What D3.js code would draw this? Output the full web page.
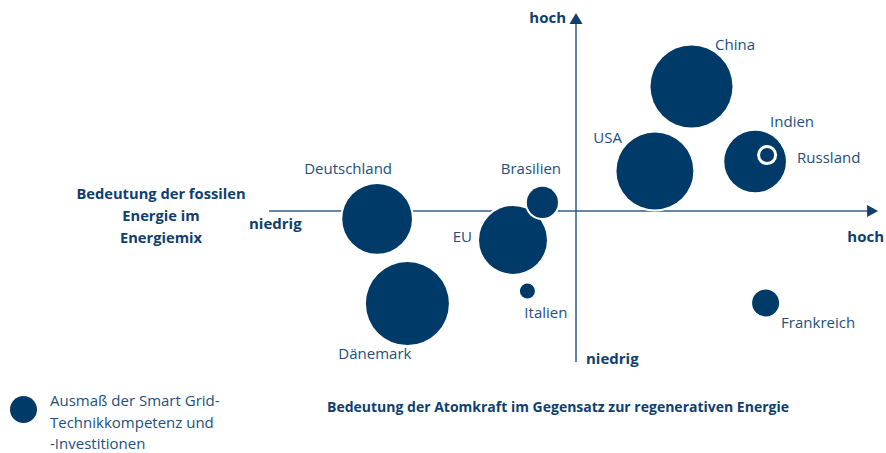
<!DOCTYPE html>
<html lang="de">
<head>
<meta charset="utf-8">
<script src="https://cdn.jsdelivr.net/npm/d3@7"></script>
<style>
  html, body { margin: 0; padding: 0; background: #fff; }
  svg { display: block; font-family: "Open Sans", "DejaVu Sans", sans-serif; }
  .lbl { fill: #21507f; font-size: 15px; font-stretch: 91%; }
  .bold { fill: #0f3f6e; font-size: 15px; font-weight: 700; font-stretch: 92%; }
  .xtitle { font-size: 14px; }
  .ytitle { font-size: 14.7px; }
</style>
</head>
<body>
<svg id="chart" width="886" height="453"></svg>
<script>
// Länder und ihre Lage im Portfolio
const countries  = ["China", "USA", "Indien", "Deutschland", "Dänemark", "EU", "Brasilien", "Italien", "Frankreich"];
// x: Bedeutung der Atomkraft im Gegensatz zur regenerativen Energie (niedrig -10 … hoch +10)
const atomkraft  = [3.85, 2.63, 5.97, -6.63, -5.62, -2.1, -1.12, -1.62, 6.32];
// y: Bedeutung der fossilen Energie im Energiemix (niedrig -10 … hoch +10)
const fossil     = [8.3, 2.67, 3.3, -0.53, -6.17, -1.93, 0.57, -5.33, -6.13];
// Kreisfläche: Ausmaß der Smart Grid-Technikkompetenz und -Investitionen
const smartGrid  = [83, 73, 47, 60, 85, 57, 12, 2.8, 9];

// Russland wird als Ring innerhalb von Indien markiert
const ringName   = ["Russland"];
const ringX      = [6.37];
const ringY      = [3.73];
const ringSize   = [3.6];

const legendSize = [9];
const legendText = ["Ausmaß der Smart Grid-", "Technikkompetenz und", "-Investitionen"];
const xTitle     = ["Bedeutung der Atomkraft im Gegensatz zur regenerativen Energie"];
const yTitle     = ["Bedeutung der fossilen", "Energie im", "Energiemix"];
const lowLabel   = "niedrig";
const highLabel  = "hoch";

// Beschriftungs-Layout (Anker und Versatz zum Kreismittelpunkt)
const labelLayout = {
  "China":       { anchor: "start",  dx: 23.5,  dy: -36.5 },
  "USA":         { anchor: "end",    dx: -33,   dy: -28 },
  "Indien":      { anchor: "start",  dx: 15,    dy: -34.5 },
  "Russland":    { anchor: "start",  dx: 30,    dy: 8 },
  "Brasilien":   { anchor: "middle", dx: -11.5, dy: -28.5 },
  "EU":          { anchor: "end",    dx: -41,   dy: 2 },
  "Deutschland": { anchor: "middle", dx: -29,   dy: -45 },
  "Dänemark":    { anchor: "middle", dx: -32.5, dy: 55.5 },
  "Italien":     { anchor: "middle", dx: 18.5,  dy: 27 },
  "Frankreich":  { anchor: "start",  dx: 15.5,  dy: 25 }
};

const bubbleColor = "#003a69";
const axisColor   = "#2f5d8c";

const svg = d3.select("#chart");

const x = d3.scaleLinear().domain([-10, 10]).range([276, 876]);
const y = d3.scaleLinear().domain([-10, 10]).range([361, 61]);
const r = d3.scaleSqrt().domain([0, 100]).range([0, 45]);

// Achsenkreuz
const xExtent = [-10.23, 10.07];
const yExtent = [-10.07, 13.2];

const axes = svg.append("g");
axes.append("line")
  .attr("x1", x(xExtent[0])).attr("x2", x(xExtent[1]) - 10)
  .attr("y1", y(0)).attr("y2", y(0))
  .attr("stroke", axisColor).attr("stroke-width", 1.5);
axes.append("line")
  .attr("x1", x(0)).attr("x2", x(0))
  .attr("y1", y(yExtent[0])).attr("y2", y(yExtent[1]) + 10)
  .attr("stroke", axisColor).attr("stroke-width", 1.5);

// Pfeilspitzen
const ax = x(xExtent[1]), ay = y(0);
axes.append("path")
  .attr("d", `M${ax},${ay} L${ax - 11},${ay - 6} L${ax - 11},${ay + 6} Z`)
  .attr("fill", "#0f3f6e");
const tx = x(0), ty = y(yExtent[1]);
axes.append("path")
  .attr("d", `M${tx},${ty} L${tx - 6.5},${ty + 11} L${tx + 6.5},${ty + 11} Z`)
  .attr("fill", "#0f3f6e");

// Kreise
const data = countries.map((c, i) => ({ name: c, x: atomkraft[i], y: fossil[i], s: smartGrid[i] }));

svg.append("g").selectAll("circle")
  .data(data)
  .join("circle")
  .attr("cx", d => x(d.x))
  .attr("cy", d => y(d.y))
  .attr("r", d => r(d.s))
  .attr("fill", bubbleColor)
  .attr("stroke", "#fff")
  .attr("stroke-width", 4)
  .style("paint-order", "stroke");

const rings = ringName.map((n, i) => ({ name: n, x: ringX[i], y: ringY[i], s: ringSize[i] }));
svg.append("g").selectAll("circle")
  .data(rings)
  .join("circle")
  .attr("cx", d => x(d.x))
  .attr("cy", d => y(d.y))
  .attr("r", d => r(d.s))
  .attr("fill", bubbleColor)
  .attr("stroke", "#fff")
  .attr("stroke-width", 3);

// Länderbeschriftungen
svg.append("g").selectAll("text")
  .data(data.concat(rings))
  .join("text")
  .attr("class", "lbl")
  .attr("x", d => x(d.x) + labelLayout[d.name].dx)
  .attr("y", d => y(d.y) + labelLayout[d.name].dy)
  .attr("text-anchor", d => labelLayout[d.name].anchor)
  .text(d => d.name);

// Achsenbeschriftungen
svg.append("text").attr("class", "bold")
  .attr("x", x(0) - 10).attr("y", 23).attr("text-anchor", "end").text(highLabel);
svg.append("text").attr("class", "bold")
  .attr("x", x(0) + 10).attr("y", 364).text(lowLabel);
svg.append("text").attr("class", "bold")
  .attr("x", 249).attr("y", 229).text(lowLabel);
svg.append("text").attr("class", "bold")
  .attr("x", 884).attr("y", 242).attr("text-anchor", "end").text(highLabel);

svg.append("text").attr("class", "bold xtitle")
  .attr("x", 558).attr("y", 412).attr("text-anchor", "middle").text(xTitle[0]);

svg.append("g").selectAll("text")
  .data(yTitle)
  .join("text")
  .attr("class", "bold ytitle")
  .attr("x", 161)
  .attr("y", (d, i) => 199 + i * 22)
  .attr("text-anchor", "middle")
  .text(d => d);

// Legende
svg.append("circle")
  .attr("cx", 23.5).attr("cy", 409.5)
  .attr("r", r(legendSize[0]))
  .attr("fill", bubbleColor);
svg.append("g").selectAll("text")
  .data(legendText)
  .join("text")
  .attr("class", "lbl")
  .attr("x", 50)
  .attr("y", (d, i) => 406 + i * 21.5)
  .text(d => d);
</script>
</body>
</html>
